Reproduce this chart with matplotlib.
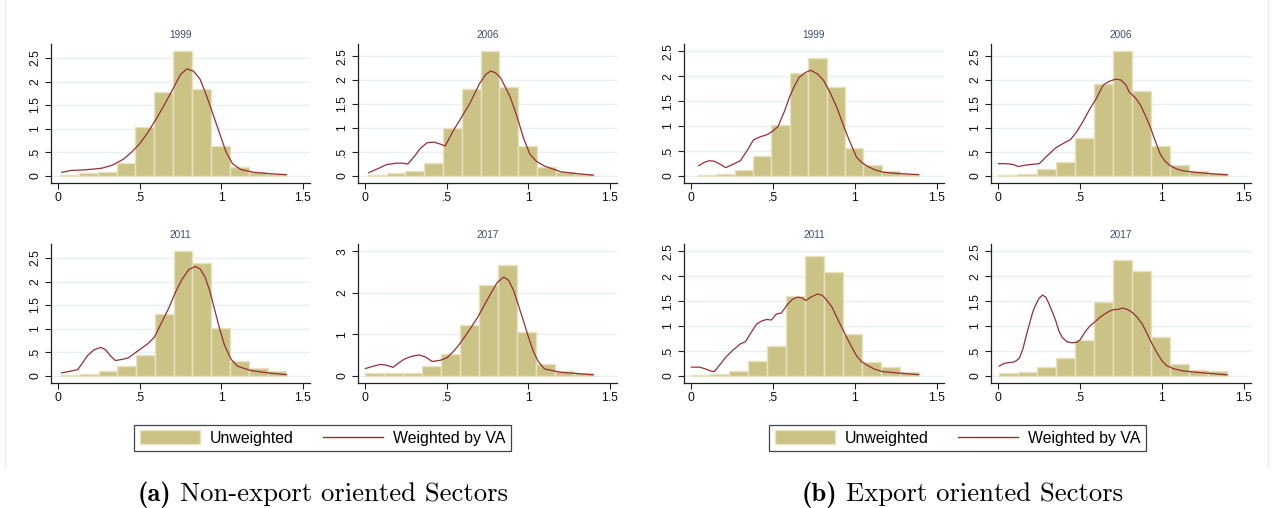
import numpy as np
import matplotlib
matplotlib.use("Agg")
import matplotlib.pyplot as plt
from matplotlib.patches import Patch
from matplotlib.lines import Line2D

# ---------------- data ----------------
years = ["1999", "2006", "2011", "2017"]

# histogram (unweighted) bar heights, 12 equal bins from start to end
ne_hist_start = [0.01, 0.015, 0.016, 0.0]
ne_hist_end = [1.40, 1.40, 1.40, 1.40]
ne_1999_hist = [0.02, 0.05, 0.07, 0.27, 1.04, 1.77, 2.64, 1.85, 0.62, 0.18, 0.07, 0.04]
ne_2006_hist = [0.02, 0.05, 0.10, 0.27, 1.00, 1.82, 2.60, 1.86, 0.61, 0.17, 0.08, 0.03]
ne_2011_hist = [0.02, 0.04, 0.09, 0.20, 0.43, 1.30, 2.64, 2.39, 1.01, 0.30, 0.16, 0.09]
ne_2017_hist = [0.065, 0.065, 0.06, 0.22, 0.51, 1.23, 2.20, 2.66, 1.06, 0.29, 0.12, 0.07]

ex_hist_start = [0.04, 0.0, 0.0, 0.005]
ex_hist_end = [1.39, 1.40, 1.39, 1.40]
ex_1999_hist = [0.01, 0.04, 0.12, 0.39, 1.02, 2.07, 2.37, 1.79, 0.56, 0.22, 0.09, 0.04]
ex_2006_hist = [0.015, 0.03, 0.13, 0.29, 0.78, 1.92, 2.60, 1.78, 0.61, 0.23, 0.10, 0.06]
ex_2011_hist = [0.02, 0.04, 0.10, 0.29, 0.60, 1.60, 2.41, 2.09, 0.84, 0.28, 0.18, 0.08]
ex_2017_hist = [0.05, 0.08, 0.17, 0.36, 0.72, 1.49, 2.33, 2.11, 0.78, 0.24, 0.12, 0.10]

# weighted-by-VA density curves
ne_1999_x = [0.02, 0.08, 0.15, 0.22, 0.27, 0.33, 0.40, 0.45, 0.50, 0.55, 0.60, 0.65, 0.70, 0.75, 0.79,
             0.83, 0.87, 0.91, 0.95, 0.99, 1.03, 1.07, 1.12, 1.20, 1.30, 1.40]
ne_1999_y = [0.07, 0.11, 0.12, 0.14, 0.16, 0.22, 0.35, 0.50, 0.68, 0.92, 1.20, 1.50, 1.82, 2.15, 2.27,
             2.22, 2.05, 1.70, 1.30, 0.90, 0.50, 0.25, 0.13, 0.07, 0.04, 0.02]

ne_2006_x = [0.02, 0.08, 0.13, 0.19, 0.23, 0.26, 0.30, 0.34, 0.38, 0.42, 0.46, 0.49, 0.54, 0.59, 0.64,
             0.70, 0.74, 0.77, 0.80, 0.83, 0.86, 0.89, 0.93, 0.97, 1.01, 1.05, 1.10, 1.20, 1.30, 1.40]
ne_2006_y = [0.06, 0.15, 0.23, 0.26, 0.26, 0.24, 0.40, 0.58, 0.69, 0.70, 0.66, 0.62, 0.94, 1.22, 1.50,
             1.92, 2.12, 2.19, 2.15, 2.05, 1.85, 1.64, 1.25, 0.80, 0.45, 0.30, 0.20, 0.08, 0.04, 0.01]

ne_2011_x = [0.02, 0.07, 0.12, 0.15, 0.18, 0.22, 0.26, 0.29, 0.32, 0.35, 0.40, 0.43, 0.47, 0.51, 0.55,
             0.59, 0.64, 0.68, 0.72, 0.76, 0.80, 0.84, 0.87, 0.90, 0.93, 0.96, 0.99, 1.02, 1.06, 1.10,
             1.18, 1.28, 1.40]
ne_2011_y = [0.06, 0.09, 0.13, 0.28, 0.43, 0.55, 0.60, 0.55, 0.42, 0.32, 0.35, 0.38, 0.48, 0.58, 0.68,
             0.82, 1.17, 1.45, 1.78, 2.05, 2.25, 2.32, 2.27, 2.10, 1.80, 1.40, 1.00, 0.65, 0.35, 0.20,
             0.11, 0.06, 0.02]

ne_2017_x = [0.00, 0.05, 0.09, 0.13, 0.17, 0.21, 0.24, 0.28, 0.33, 0.37, 0.41, 0.46, 0.50, 0.54, 0.58,
             0.63, 0.69, 0.73, 0.77, 0.81, 0.85, 0.88, 0.91, 0.94, 0.97, 1.00, 1.03, 1.06, 1.10, 1.20,
             1.30, 1.40]
ne_2017_y = [0.17, 0.23, 0.27, 0.25, 0.20, 0.32, 0.40, 0.46, 0.50, 0.45, 0.34, 0.37, 0.43, 0.58, 0.77,
             1.05, 1.41, 1.70, 1.98, 2.25, 2.38, 2.30, 2.06, 1.70, 1.33, 0.95, 0.60, 0.35, 0.16, 0.08,
             0.05, 0.02]

ex_1999_x = [0.045, 0.08, 0.11, 0.14, 0.17, 0.21, 0.25, 0.30, 0.34, 0.38, 0.42, 0.46, 0.50, 0.53, 0.57,
             0.60, 0.63, 0.66, 0.70, 0.73, 0.77, 0.81, 0.85, 0.89, 0.92, 0.95, 0.98, 1.01, 1.04, 1.07,
             1.12, 1.17, 1.27, 1.39]
ex_1999_y = [0.20, 0.27, 0.30, 0.29, 0.24, 0.16, 0.22, 0.30, 0.50, 0.72, 0.78, 0.82, 0.90, 0.99, 1.30,
             1.58, 1.80, 1.98, 2.08, 2.12, 2.05, 1.91, 1.66, 1.37, 1.10, 0.84, 0.60, 0.37, 0.27, 0.20,
             0.12, 0.07, 0.04, 0.02]

ex_2006_x = [0.00, 0.04, 0.08, 0.10, 0.12, 0.15, 0.19, 0.25, 0.30, 0.35, 0.40, 0.44, 0.48, 0.52, 0.56,
             0.60, 0.64, 0.67, 0.70, 0.72, 0.75, 0.78, 0.80, 0.84, 0.87, 0.90, 0.93, 0.96, 0.99, 1.02,
             1.05, 1.09, 1.13, 1.20, 1.30, 1.40]
ex_2006_y = [0.25, 0.25, 0.24, 0.22, 0.19, 0.21, 0.23, 0.25, 0.42, 0.58, 0.68, 0.75, 0.92, 1.15, 1.40,
             1.62, 1.89, 1.96, 2.00, 2.02, 2.00, 1.90, 1.75, 1.62, 1.47, 1.25, 1.01, 0.72, 0.45, 0.30,
             0.21, 0.14, 0.10, 0.07, 0.04, 0.015]

ex_2011_x = [0.00, 0.05, 0.09, 0.12, 0.14, 0.17, 0.21, 0.25, 0.30, 0.33, 0.36, 0.40, 0.43, 0.46, 0.49,
             0.52, 0.55, 0.59, 0.62, 0.65, 0.68, 0.70, 0.73, 0.77, 0.80, 0.83, 0.86, 0.89, 0.92, 0.95,
             0.98, 1.01, 1.04, 1.07, 1.12, 1.17, 1.27, 1.39]
ex_2011_y = [0.17, 0.17, 0.13, 0.09, 0.08, 0.20, 0.37, 0.50, 0.64, 0.68, 0.84, 1.04, 1.10, 1.13, 1.12,
             1.24, 1.26, 1.44, 1.54, 1.58, 1.56, 1.51, 1.58, 1.64, 1.62, 1.51, 1.38, 1.17, 0.97, 0.77,
             0.58, 0.40, 0.28, 0.22, 0.13, 0.08, 0.05, 0.02]

ex_2017_x = [0.005, 0.03, 0.06, 0.09, 0.11, 0.13, 0.15, 0.17, 0.19, 0.21, 0.23, 0.25, 0.27, 0.29, 0.31,
             0.33, 0.35, 0.37, 0.39, 0.42, 0.45, 0.48, 0.50, 0.53, 0.56, 0.59, 0.62, 0.65, 0.68, 0.71,
             0.73, 0.76, 0.79, 0.82, 0.85, 0.88, 0.91, 0.94, 0.97, 1.00, 1.03, 1.07, 1.12, 1.17, 1.27,
             1.40]
ex_2017_y = [0.19, 0.24, 0.26, 0.27, 0.30, 0.36, 0.54, 0.80, 1.04, 1.28, 1.44, 1.56, 1.62, 1.58, 1.44,
             1.28, 1.11, 0.90, 0.77, 0.68, 0.66, 0.67, 0.72, 0.88, 1.00, 1.08, 1.17, 1.24, 1.30, 1.33,
             1.33, 1.36, 1.33, 1.27, 1.17, 1.04, 0.84, 0.64, 0.46, 0.30, 0.20, 0.14, 0.10, 0.08, 0.05,
             0.015]

x_ticks = [0, 0.5, 1, 1.5]
x_ticklabels = ["0", ".5", "1", "1.5"]
y_ticks_25 = [0, 0.5, 1, 1.5, 2, 2.5]
y_ticklabels_25 = ["0", ".5", "1", "1.5", "2", "2.5"]
y_ticks_3 = [0, 1, 2, 3]
y_ticklabels_3 = ["0", "1", "2", "3"]

legend_labels = ["Unweighted", "Weighted by VA"]
captions = [("(a)", "Non-export oriented Sectors"), ("(b)", "Export oriented Sectors")]

# ---------------- style ----------------
W, H = 1274, 508
BAR_FACE = "#cbc385"
BAR_EDGE = "#e6e2bf"
LINE_COL = "#962f38"
GRID_COL = "#e8f0f1"
TITLE_COL = "#3a4a70"
TICK_FONT = "Liberation Sans"

fig = plt.figure(figsize=(W / 100, H / 100), dpi=100)
fig.patch.set_facecolor("white")


def add_ax(x0, y0, x1, y1):
    return fig.add_axes([x0 / W, 1 - y1 / H, (x1 - x0) / W, (y1 - y0) / H])


panels = [
    ((51, 44, 310, 183), ne_1999_hist, ne_hist_start[0], ne_hist_end[0], ne_1999_x, ne_1999_y, years[0], y_ticks_25, y_ticklabels_25),
    ((358, 44, 617, 183), ne_2006_hist, ne_hist_start[1], ne_hist_end[1], ne_2006_x, ne_2006_y, years[1], y_ticks_25, y_ticklabels_25),
    ((51, 244, 310, 383), ne_2011_hist, ne_hist_start[2], ne_hist_end[2], ne_2011_x, ne_2011_y, years[2], y_ticks_25, y_ticklabels_25),
    ((358, 244, 617, 383), ne_2017_hist, ne_hist_start[3], ne_hist_end[3], ne_2017_x, ne_2017_y, years[3], y_ticks_3, y_ticklabels_3),
    ((684, 44, 944, 183), ex_1999_hist, ex_hist_start[0], ex_hist_end[0], ex_1999_x, ex_1999_y, years[0], y_ticks_25, y_ticklabels_25),
    ((991, 44, 1251, 183), ex_2006_hist, ex_hist_start[1], ex_hist_end[1], ex_2006_x, ex_2006_y, years[1], y_ticks_25, y_ticklabels_25),
    ((684, 244, 944, 383), ex_2011_hist, ex_hist_start[2], ex_hist_end[2], ex_2011_x, ex_2011_y, years[2], y_ticks_25, y_ticklabels_25),
    ((991, 244, 1251, 383), ex_2017_hist, ex_hist_start[3], ex_hist_end[3], ex_2017_x, ex_2017_y, years[3], y_ticks_25, y_ticklabels_25),
]

MARGIN_PX = 7.4
for box, hist, hs, he, cx, cy, yr, yt, yl in panels:
    x0, y0, x1, y1 = box
    ax = add_ax(x0, y0, x1, y1)
    edges = np.linspace(hs, he, len(hist) + 1)
    ax.bar(edges[:-1], hist, width=np.diff(edges), align="edge",
           color=BAR_FACE, edgecolor=BAR_EDGE, linewidth=1.0, zorder=2)
    ax.plot(cx, cy, color=LINE_COL, lw=0.9, zorder=3)

    wpx, hpx = x1 - x0, y1 - y0
    xlo, xhi = 0.0, 1.5
    padx = (xhi - xlo) * MARGIN_PX / (wpx - 2 * MARGIN_PX)
    ax.set_xlim(xlo - padx, xhi + padx)
    yhi = max(max(yt), max(hist), max(cy))
    pady = yhi * MARGIN_PX / (hpx - 2 * MARGIN_PX)
    ax.set_ylim(-pady, yhi + pady)

    ax.set_xticks(x_ticks)
    ax.set_xticklabels(x_ticklabels, fontfamily=TICK_FONT, fontsize=8.8)
    ax.set_yticks(yt)
    ax.set_yticklabels(yl, fontfamily=TICK_FONT, fontsize=8.8, rotation=90, va="center")
    ax.tick_params(axis="both", direction="out", length=4, width=0.8, color="#222222",
                   labelcolor="#111111")
    ax.tick_params(axis="x", pad=2.5)
    ax.tick_params(axis="y", pad=3)
    for s in ["top", "right"]:
        ax.spines[s].set_visible(False)
    for s in ["left", "bottom"]:
        ax.spines[s].set_linewidth(0.9)
        ax.spines[s].set_color("#222222")
    ax.set_axisbelow(True)
    ax.yaxis.grid(True, color=GRID_COL, lw=1.0, zorder=0)
    ax.xaxis.grid(False)
    ax.set_facecolor("white")
    ax.set_title(yr, fontfamily=TICK_FONT, fontsize=7.2, color=TITLE_COL, pad=4.5)

# legends
handles = [Patch(facecolor=BAR_FACE, edgecolor=BAR_EDGE, linewidth=1.0),
           Line2D([0], [0], color=LINE_COL, lw=1.0)]
for cxp in (322.5, 957.5):
    leg = fig.legend(handles, legend_labels, loc="center", bbox_to_anchor=(cxp / W, 1 - 438 / H),
                     ncol=2, frameon=True, fancybox=False, framealpha=1,
                     prop={"family": TICK_FONT, "size": 11.4},
                     handlelength=3.8, handleheight=1.0, handletextpad=0.6,
                     columnspacing=1.9, borderpad=0.35, borderaxespad=0)
    leg.get_frame().set_edgecolor("#444444")
    leg.get_frame().set_linewidth(0.9)

# captions: bold label in cmb10 followed by regular text in cmr10
fig.canvas.draw()
renderer = fig.canvas.get_renderer()
CAP_SIZE = 19.2
for cxp, (lab, txt) in zip((322.5, 962.0), captions):
    t1 = fig.text(0, 1 - 501 / H, lab, fontfamily="cmb10", fontsize=CAP_SIZE,
                  ha="left", va="baseline", color="black")
    t2 = fig.text(0, 1 - 501 / H, txt, fontfamily="cmr10", fontsize=CAP_SIZE,
                  ha="left", va="baseline", color="black")
    w1 = t1.get_window_extent(renderer).width
    w2 = t2.get_window_extent(renderer).width
    gap = CAP_SIZE * 0.333 * 100 / 72
    total = w1 + gap + w2
    left = cxp - total / 2
    t1.set_x(left / W)
    t2.set_x((left + w1 + gap) / W)

# faint outer frame lines of original graph regions
fig.add_artist(Line2D([5 / W, 5 / W], [1 - 468 / H, 1.0], color="#eeeeee", lw=1.0))
fig.add_artist(Line2D([1268 / W, 1268 / W], [1 - 468 / H, 1.0], color="#eeeeee", lw=1.0))

fig.savefig("out.png", dpi=100, facecolor="white")
